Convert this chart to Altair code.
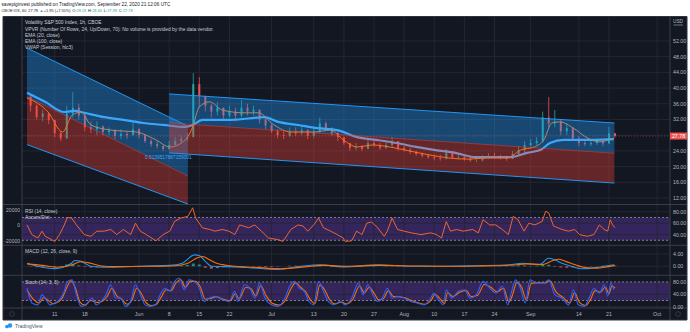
import altair as alt
import pandas as pd

# ---------------- data ----------------
# x unit: trading days counted from 11 May 2020 (t = 0)
day_t = list(range(-4, 94))
close = [35.5, 32.6, 33.5, 31.9, 28.5, 27.2, 33.5, 35.0, 33.0, 30.0,
         29.5, 30.2, 28.8, 29.2, 27.8, 28.3, 28.0, 29.5, 28.0, 26.5,
         25.7, 25.2, 24.5, 25.5, 26.5, 27.0, 27.5, 41.0, 38.0, 35.5,
         34.0, 35.0, 33.0, 34.0, 33.0, 35.0, 34.0, 34.5, 32.0, 30.5,
         29.0, 28.0, 27.8, 29.0, 28.5, 29.3, 27.8, 29.0, 31.0, 29.8,
         28.5, 27.5, 26.0, 24.8, 25.0, 24.5, 26.0, 25.5, 24.8, 25.5,
         26.5, 24.8, 24.3, 23.8, 23.2, 22.8, 22.4, 22.2, 22.0, 23.5,
         22.4, 22.5, 22.0, 21.6, 21.6, 22.3, 22.6, 22.5, 22.3, 22.0,
         23.2, 24.2, 25.5, 26.0, 26.5, 32.5, 31.0, 31.5, 29.0, 29.8,
         27.2, 26.0, 25.7, 26.0, 26.4, 25.9, 28.5, 27.78]
high = [38.5, 35.8, 34.5, 33.5, 31.5, 29.0, 35.5, 39.0, 36.0, 33.5,
        31.5, 31.5, 30.5, 30.0, 29.5, 29.5, 29.0, 31.5, 29.8, 28.2,
        27.0, 26.5, 25.5, 26.5, 27.5, 28.0, 28.5, 43.8, 42.8, 38.0,
        36.0, 36.4, 35.0, 35.5, 35.0, 36.9, 36.0, 35.5, 34.5, 32.5,
        31.0, 29.5, 29.0, 30.0, 30.0, 30.5, 29.5, 30.0, 32.5, 31.5,
        30.0, 28.8, 27.5, 26.0, 26.0, 25.5, 27.0, 26.8, 26.0, 26.3,
        27.5, 26.0, 25.2, 24.8, 24.0, 23.6, 23.2, 22.9, 23.0, 24.5,
        23.6, 23.2, 22.8, 22.5, 22.3, 22.8, 23.4, 23.5, 23.0, 22.8,
        24.0, 25.2, 26.5, 27.0, 27.5, 34.0, 37.7, 34.4, 32.0, 31.0,
        30.1, 27.8, 26.8, 26.8, 27.2, 26.8, 30.1, 28.4]
low = [34.0, 32.0, 31.5, 30.8, 27.5, 26.5, 27.0, 32.5, 32.0, 29.0,
       28.5, 28.0, 28.0, 28.0, 27.0, 27.0, 27.0, 28.0, 27.2, 26.0,
       25.0, 24.6, 24.0, 24.3, 25.5, 26.0, 26.5, 27.5, 35.0, 34.0,
       32.5, 33.0, 32.0, 32.5, 31.5, 32.5, 33.0, 33.0, 31.0, 29.5,
       28.5, 27.2, 27.0, 27.5, 27.8, 28.0, 27.0, 27.2, 28.5, 29.0,
       27.8, 26.5, 25.5, 24.0, 24.2, 24.0, 24.5, 25.0, 24.2, 24.5,
       25.0, 24.0, 23.8, 23.2, 22.8, 22.3, 22.0, 21.6, 21.5, 21.8,
       21.9, 21.8, 21.5, 21.2, 21.1, 21.3, 21.9, 22.0, 21.8, 21.5,
       21.9, 22.8, 23.5, 25.0, 25.5, 26.0, 30.0, 30.0, 28.0, 28.0,
       26.5, 25.2, 25.2, 25.2, 25.5, 25.2, 25.8, 27.39]
first_open = 37.7
hist = [0.1, -0.3, -0.4, -0.3,
        -0.3, 0.1, 0.6, 0.7, 0.3, -0.2, -0.4, -0.3, -0.2, -0.1,
        0.0, 0.1, 0.0, 0.1, 0.0, -0.1, -0.1, 0.0, 0.0, 0.1,
        0.2, 0.3, 0.4, 0.9, 0.6, -0.5, -0.8, -0.6, -0.3, -0.2,
        -0.1, 0.1, 0.0, -0.1, -0.2, -0.3, -0.2, -0.1, 0.0, 0.2,
        0.2, 0.1, 0.1, 0.2, 0.3, 0.0, -0.2, -0.2, -0.2, -0.1,
        0.0, 0.1, 0.2, 0.1, 0.0, 0.1, 0.1, -0.1, -0.1, -0.1,
        0.0, 0.0, 0.0, 0.0, 0.0, 0.1, 0.0, 0.0, 0.0, 0.0,
        0.1, 0.1, 0.0, 0.0, 0.1, 0.1, 0.2, 0.3, 0.3, 0.1,
        0.2, 0.6, 0.5, -0.2, -0.4, -0.5, -0.4, -0.3, -0.1, 0.1,
        0.1, 0.2, 0.3, 0.2]

e100_t = [-4.6, -1.6, 1.6, 3.3, 4.9, 8.2, 11.4, 14.7, 18.0, 21.7, 22.9, 24.5,
          26.6, 29.4, 34.8, 37.1, 40.4, 43.6, 46.9, 50.2, 53.4, 56.7, 60.0,
          63.2, 66.5, 69.8, 73.0, 75.7, 78.4, 80.6, 82.2, 84.5, 86.6, 89.4, 92.8]
e100_v = [38.8, 36.5, 33.9, 34.2, 33.7, 32.6, 31.9, 31.1, 30.6, 30.1, 30.6, 31.9,
          31.9, 31.9, 32.6, 31.4, 30.6, 29.8, 29.3, 27.5, 26.8, 26.0, 25.0,
          24.2, 23.5, 22.4, 22.4, 22.4, 23.5, 24.2, 26.0, 26.8, 26.8, 26.8, 27.0]
e20_t = [-4.6, -1.1, 1.3, 2.9, 4.4, 6.0, 9.3, 13.6, 16.8, 19.1, 21.7, 22.9, 24.0,
         25.7, 27.8, 31.5, 33.8, 36.4, 39.2, 43.0, 45.8, 47.9, 50.2, 52.8, 55.6,
         58.8, 62.1, 65.4, 68.6, 71.9, 75.2, 77.3, 79.6, 81.2, 82.5, 83.8, 86.1,
         88.2, 90.4, 92.8]
e20_v = [37.5, 33.9, 28.8, 33.1, 33.9, 30.6, 29.3, 28.8, 26.8, 25.0, 26.8, 30.1,
         35.2, 36.5, 34.4, 33.7, 33.7, 30.6, 28.8, 28.8, 29.3, 26.8, 25.0, 25.5,
         25.0, 24.0, 23.0, 22.2, 21.9, 22.2, 22.2, 24.2, 25.0, 26.8, 31.1, 31.4,
         29.8, 27.5, 26.3, 27.3]

# regression channels: [start, end]
ch1_t = [-4.6, 22.1]
ch1_up = [50.2, 30.3]
ch1_mid = [37.8, 17.6]
ch1_lo = [25.6, 5.2]
ch2_t = [19.0, 92.9]
ch2_up = [38.5, 31.1]
ch2_mid = [31.1, 23.4]
ch2_lo = [23.5, 15.8]

rsi_t = [-4.6, -3.8, -2.8, -2.1, -1.6, -0.5, 0, 0.8, 1.6, 2.1, 2.8, 3.6, 4.9, 6.0,
         7.0, 8.2, 9.3, 10.3, 11.4, 12.6, 13.4, 14.2, 15.2, 16.8, 18.0, 19.1, 19.9,
         20.9, 22.1, 22.9, 23.4, 24.5, 25.7, 26.6, 27.8, 28.9, 29.9, 30.7, 32.2,
         33.2, 34.3, 35.5, 37.1, 37.9, 39.2, 40.4, 41.2, 42.0, 43.0, 43.8, 44.6,
         45.8, 46.9, 47.9, 48.2, 49.3, 50.1, 51.0, 51.8, 52.6, 53.6, 54.7, 55.2,
         56.0, 56.9, 58.0, 59.2, 60.8, 62.4, 63.4, 64.2, 65.0, 65.7, 66.7, 67.8,
         69.4, 70.3, 71.1, 72.2, 73.2, 74.3, 75.3, 76.1, 76.9, 77.9, 78.7, 79.7,
         80.9, 81.5, 82.0, 82.8, 84.2, 85.3, 86.3, 87.1, 88.4, 89.5, 90.4, 91.2,
         91.8, 92.2, 92.6, 93.0]
rsi_v = [57, 40, 34, 46, 37, 31, 28, 40, 57, 70, 69, 57, 40, 37, 46, 46, 49, 40, 49,
         40, 60, 46, 40, 29, 40, 46, 63, 69, 72, 87, 69, 52, 49, 46, 49, 46, 40, 57,
         52, 57, 46, 34, 31, 28, 49, 57, 55, 46, 57, 69, 52, 46, 40, 34, 28, 29, 46,
         40, 60, 62, 52, 37, 46, 69, 49, 46, 43, 40, 43, 40, 34, 63, 46, 49, 46, 49,
         43, 66, 57, 57, 49, 40, 72, 66, 46, 60, 57, 63, 81, 78, 55, 49, 46, 49, 40,
         37, 40, 57, 49, 46, 66, 57, 52]

macd_t = [-4.6, -2.8, 0, 2.8, 3.3, 4.4, 6.0, 8.2, 13.6, 19.1, 21.2, 23.2, 24.0,
          25.0, 26.1, 29.9, 32.7, 37.1, 40.8, 44.1, 47.9, 53.6, 59.2, 64.5, 69.9,
          75.5, 77.6, 80.4, 82.0, 83.0, 84.2, 85.8, 87.4, 89.5, 91.2, 92.8]
macd_v = [1.0, 0, -0.75, 1.0, 1.9, 1.6, 0, -0.3, 0, 0.3, 1.0, 3.7, 3.5, 1.6, 0,
          -0.2, -0.5, -1.0, 0, 0.5, -0.2, 0.5, 0, 0, 0.2, 0.5, 1.0, 0.5, 2.6, 2.1,
          1.0, 0, -0.8, -0.5, 0, 0.5]
sig_t = [-4.6, -2, 0.5, 3.0, 4.2, 5.5, 7.5, 10, 15, 20, 22, 23.7, 24.6, 25.6, 27,
         30, 33, 37.5, 41.5, 44.6, 48.5, 54, 60, 65, 70, 76, 78.2, 81, 82.6, 83.6,
         84.8, 86.3, 88, 90, 91.6, 93]
sig_v = [0.8, 0.3, -0.3, 0.5, 1.5, 1.2, 0.2, -0.1, 0, 0.2, 0.9, 2.8, 3.2, 2.2, 0.9,
         0, -0.3, -0.8, -0.2, 0.3, 0, 0.3, 0.1, 0, 0.1, 0.4, 0.8, 0.6, 1.8, 2.3,
         1.6, 0.6, -0.4, -0.6, -0.2, 0.3]

stk_t = [-4.6, -3.8, -2.8, -2.1, -1.6, -0.8, 0, 0.8, 1.6, 2.1, 2.9, 3.6, 4.4, 5.2,
         6.2, 6.9, 7.7, 8.5, 9.3, 10.1, 10.9, 11.8, 12.6, 13.4, 14.2, 15.0, 15.8,
         16.7, 17.5, 18.3, 19.1, 19.9, 20.7, 21.5, 22.3, 23.2, 24.0, 24.8, 25.7,
         26.6, 27.8, 28.9, 29.9, 30.4, 31.5, 32.4, 33.2, 34.0, 34.9, 36.0, 37.1,
         38.2, 39.0, 39.8, 40.6, 41.4, 42.2, 43.0, 43.8, 44.6, 45.4, 46.3, 47.4,
         48.2, 49.3, 50.4, 51.2, 52.0, 52.8, 53.6, 54.4, 55.2, 56.0, 56.9, 58.0,
         59.1, 60.1, 61.3, 62.4, 62.9, 63.7, 64.5, 65.0, 65.9, 67.0, 68.1, 68.9,
         70.0, 71.1, 72.2, 73.2, 74.3, 75.2, 75.7, 76.5, 77.3, 78.1, 78.9, 80.1,
         81.2, 82.0, 83.0, 84.2, 85.3, 86.1, 86.9, 87.9, 88.7, 89.5, 90.4, 91.2,
         91.8, 92.3, 92.8]
stk_v = [60, 12, 6, 39, 28, 6, 12, 23, 50, 82, 87, 39, 1, 6, 28, 6, 17, 39, 71, 28,
         28, 1, 17, 71, 39, 6, 1, 6, 39, 60, 50, 82, 93, 55, 87, 82, 60, 17, 28, 34,
         23, 17, 50, 17, 71, 60, 28, 77, 28, 6, 1, 28, 66, 82, 60, 50, 17, 6, 82, 50,
         17, 6, 17, 6, 28, 77, 39, 71, 39, 17, 28, 60, 28, 34, 28, 17, 12, 6, 28, 44,
         23, 6, 55, 28, 50, 55, 28, 39, 82, 60, 44, 66, 6, 39, 87, 60, 12, 87, 77, 77,
         87, 39, 28, 6, 55, 6, 1, 28, 60, 44, 71, 34, 77, 55]
std_t = [-4.6, -3.6, -2.6, -1.8, -1.2, -0.3, 0.5, 1.3, 2.0, 2.7, 3.4, 4.2, 5.0, 6.0,
         7.0, 7.9, 8.7, 9.5, 10.3, 11.1, 12.0, 12.8, 13.6, 14.4, 15.2, 16.0, 16.9,
         17.7, 18.5, 19.3, 20.1, 20.9, 21.7, 22.5, 23.4, 24.2, 25.0, 25.9, 26.8,
         28.0, 29.1, 30.0, 30.6, 31.7, 32.6, 33.4, 34.2, 35.1, 36.2, 37.3, 38.4,
         39.2, 40.0, 40.8, 41.6, 42.4, 43.2, 44.0, 44.8, 45.6, 46.5, 47.6, 48.4,
         49.5, 50.6, 51.4, 52.2, 53.0, 53.8, 54.6, 55.4, 56.2, 57.1, 58.2, 59.3,
         60.3, 61.5, 62.6, 63.1, 63.9, 64.7, 65.2, 66.1, 67.2, 68.3, 69.1, 70.2,
         71.3, 72.4, 73.4, 74.5, 75.4, 75.9, 76.7, 77.5, 78.3, 79.1, 80.3, 81.4,
         82.2, 83.2, 84.4, 85.5, 86.3, 87.1, 88.1, 88.9, 89.7, 90.6, 91.4, 92.0,
         92.5, 93.0]
std_v = [55, 25, 12, 30, 22, 10, 14, 30, 62, 84, 62, 15, 5, 20, 14, 18, 33, 60, 35,
         25, 8, 20, 60, 42, 12, 4, 8, 32, 55, 52, 76, 88, 62, 82, 82, 62, 24, 27, 32,
         24, 19, 42, 25, 62, 58, 34, 68, 35, 10, 5, 24, 58, 78, 63, 50, 24, 10, 70,
         55, 24, 9, 15, 9, 24, 68, 45, 63, 44, 22, 27, 52, 33, 32, 28, 19, 13, 8, 24,
         40, 27, 10, 45, 33, 47, 52, 33, 37, 72, 63, 48, 60, 15, 33, 78, 63, 22, 75,
         78, 77, 84, 48, 30, 12, 45, 14, 4, 22, 52, 47, 64, 42, 68, 60]

price_ticks = [12, 16, 20, 24, 28, 32, 36, 40, 44, 48, 52]
rsi_ticks = [80, 60, 40]
rsi_band = [70, 30]
ad_ticks = [20000, 0, -20000]
macd_ticks = [4, 0]
stoch_ticks = [80, 40, 0]
stoch_band = [80, 20]
time_labels = ["11", "18", "Jun", "8", "15", "22", "Jul", "13", "20", "27",
               "Aug", "10", "17", "24", "Sep", "14", "21", "Oct"]
time_t = [0, 5, 14, 19, 24, 29, 36, 43, 48, 53, 58, 63, 68, 73, 79, 87, 92, 100]
last_price = 27.78
pearson = "0.5139517887159001"

for a, b in [(day_t, close), (day_t, high), (day_t, low), (day_t, hist),
             (e100_t, e100_v), (e20_t, e20_v), (rsi_t, rsi_v), (macd_t, macd_v),
             (sig_t, sig_v), (stk_t, stk_v), (std_t, std_v), (time_t, time_labels)]:
    assert len(a) == len(b), (len(a), len(b))

# ---------------- styling ----------------
BG = "#131722"
GRID = "#232733"
SEP = "#3a3e4a"
TXT = "#b2b5be"
LEG = "#c9ccd4"
BLUE = "#2196f3"
RED = "#f44336"
UP = "#26a69a"
DOWN = "#ef5350"
FONT = "Liberation Sans"

X = alt.Scale(domain=[-4.6, 101.3], range=[22, 670], nice=False, zero=False)


def ysc(d0, d1, r0, r1):
    return alt.Scale(domain=[d0, d1], range=[r0, r1], nice=False, zero=False, clamp=True)


SP = ysc(10.47, 58.1, 204, 17)
SR = ysc(21.2, 91.9, 245.3, 205)
SA = ysc(-25550, 26450, 245.3, 205)
SM = ysc(-2.93, 6.83, 275.3, 245.3)
SS = ysc(-4.2, 101.7, 308, 275.3)

one = pd.DataFrame({"k": [0]})


def xe(f="t"):
    return alt.X(f"{f}:Q", scale=X, axis=None)


def ye(f, sc):
    return alt.Y(f"{f}:Q", scale=sc, axis=None)


def box(x0, x1, y0, y1, color, **kw):
    return alt.Chart(one).mark_rect(color=color, **kw).encode(
        x=alt.value(x0), x2=alt.value(x1), y=alt.value(y0), y2=alt.value(y1))


def rule(x0, x1, y0, y1, color, **kw):
    return alt.Chart(one).mark_rule(color=color, **kw).encode(
        x=alt.value(x0), x2=alt.value(x1), y=alt.value(y0), y2=alt.value(y1))


def label(x, y, text, size=5.0, color=LEG, align="left", weight="normal"):
    return alt.Chart(one).mark_text(
        align=align, baseline="middle", font=FONT, fontSize=size, color=color,
        fontWeight=weight).encode(x=alt.value(x), y=alt.value(y), text=alt.value(text))


layers = []
# dark panel
layers.append(box(3, 687, 16.5, 320, BG, stroke="#2f3340", strokeWidth=1))

# purple bands
bdf = pd.DataFrame({"a": [rsi_band[0]], "b": [rsi_band[1]]})
layers.append(alt.Chart(bdf).mark_rect(color="#34265c").encode(
    x=alt.value(22), x2=alt.value(670), y=ye("a", SR), y2="b:Q"))
sdf = pd.DataFrame({"a": [stoch_band[0]], "b": [stoch_band[1]]})
layers.append(alt.Chart(sdf).mark_rect(color="#34265c").encode(
    x=alt.value(22), x2=alt.value(670), y=ye("a", SS), y2="b:Q"))

# grids
tdf = pd.DataFrame({"t": time_t, "lab": time_labels})
layers.append(alt.Chart(tdf).mark_rule(color=GRID, strokeWidth=1).encode(
    x=xe(), y=alt.value(17), y2=alt.value(308)))
pdf = pd.DataFrame({"v": price_ticks})
layers.append(alt.Chart(pdf).mark_rule(color=GRID, strokeWidth=1).encode(
    y=ye("v", SP), x=alt.value(22), x2=alt.value(670)))
for ticks, sc in [(rsi_ticks, SR), (macd_ticks, SM), (stoch_ticks, SS)]:
    layers.append(alt.Chart(pd.DataFrame({"v": ticks})).mark_rule(
        color=GRID, strokeWidth=1).encode(y=ye("v", sc), x=alt.value(22), x2=alt.value(670)))

# pane separators
for yy in [204.5, 245.3, 275.3, 308]:
    layers.append(rule(3, 687, yy, yy, SEP, strokeWidth=1))
layers.append(rule(22, 22, 16.5, 320, SEP, strokeWidth=1))
layers.append(rule(670, 670, 16.5, 320, SEP, strokeWidth=1))

# candles
opens = [first_open] + close[:-1]
cdf = pd.DataFrame({"t": day_t, "o": opens, "h": high, "l": low, "c": close})
for sub, col in [(cdf[cdf.c >= cdf.o], UP), (cdf[cdf.c < cdf.o], DOWN)]:
    layers.append(alt.Chart(sub).mark_rule(color=col, strokeWidth=0.8).encode(
        x=xe(), y=ye("l", SP), y2="h:Q"))
    layers.append(alt.Chart(sub).mark_bar(color=col, size=2).encode(
        x=xe(), y=ye("o", SP), y2="c:Q"))

# moving averages
layers.append(alt.Chart(pd.DataFrame({"t": e100_t, "v": e100_v})).mark_line(
    color="#4db2ff", strokeWidth=2.2, interpolate="monotone").encode(x=xe(), y=ye("v", SP)))
layers.append(alt.Chart(pd.DataFrame({"t": e20_t, "v": e20_v})).mark_line(
    color="#f08a24", strokeWidth=1, interpolate="monotone").encode(x=xe(), y=ye("v", SP)))

# regression channels
for tt, up, mid, lo in [(ch1_t, ch1_up, ch1_mid, ch1_lo), (ch2_t, ch2_up, ch2_mid, ch2_lo)]:
    cd = pd.DataFrame({"t": tt, "up": up, "mid": mid, "lo": lo})
    layers.append(alt.Chart(cd).mark_area(color=BLUE, opacity=0.38).encode(
        x=xe(), y=ye("up", SP), y2="mid:Q"))
    layers.append(alt.Chart(cd).mark_area(color=RED, opacity=0.36).encode(
        x=xe(), y=ye("mid", SP), y2="lo:Q"))
    layers.append(alt.Chart(cd).mark_line(color=BLUE, strokeWidth=1).encode(
        x=xe(), y=ye("up", SP)))
    layers.append(alt.Chart(cd).mark_line(color=BLUE, strokeWidth=1).encode(
        x=xe(), y=ye("lo", SP)))
    layers.append(alt.Chart(cd).mark_line(color=RED, strokeWidth=0.8, opacity=0.6).encode(
        x=xe(), y=ye("mid", SP)))

# last price line
lp = pd.DataFrame({"v": [last_price], "s": [f"{last_price:.2f}"]})
layers.append(alt.Chart(lp).mark_rule(color=DOWN, strokeWidth=0.7, strokeDash=[1, 2],
                                      opacity=0.7).encode(
    y=ye("v", SP), x=alt.value(22), x2=alt.value(670)))

# RSI pane
for v in rsi_band:
    layers.append(alt.Chart(pd.DataFrame({"v": [v]})).mark_rule(
        color="#9598a1", strokeWidth=0.8, strokeDash=[2, 2]).encode(
        y=ye("v", SR), x=alt.value(22), x2=alt.value(670)))
layers.append(alt.Chart(pd.DataFrame({"t": rsi_t, "v": rsi_v})).mark_line(
    color="#f0642d", strokeWidth=1).encode(x=xe(), y=ye("v", SR)))

# MACD pane
hdf = pd.DataFrame({"t": day_t, "v": hist, "z": [0] * len(hist)})
for sub, col in [(hdf[hdf.v >= 0], UP), (hdf[hdf.v < 0], DOWN)]:
    layers.append(alt.Chart(sub).mark_bar(color=col, size=3, opacity=0.8).encode(
        x=xe(), y=ye("v", SM), y2="z:Q"))
layers.append(alt.Chart(pd.DataFrame({"t": macd_t, "v": macd_v})).mark_line(
    color="#2196f3", strokeWidth=1.1, interpolate="monotone").encode(x=xe(), y=ye("v", SM)))
layers.append(alt.Chart(pd.DataFrame({"t": sig_t, "v": sig_v})).mark_line(
    color="#ff6d00", strokeWidth=1.1, interpolate="monotone").encode(x=xe(), y=ye("v", SM)))

# Stoch pane
for v in stoch_band:
    layers.append(alt.Chart(pd.DataFrame({"v": [v]})).mark_rule(
        color="#9598a1", strokeWidth=0.8, strokeDash=[2, 2]).encode(
        y=ye("v", SS), x=alt.value(22), x2=alt.value(670)))
layers.append(alt.Chart(pd.DataFrame({"t": std_t, "v": std_v})).mark_line(
    color="#ff6d00", strokeWidth=1.1, interpolate="monotone").encode(x=xe(), y=ye("v", SS)))
layers.append(alt.Chart(pd.DataFrame({"t": stk_t, "v": stk_v})).mark_line(
    color="#2962ff", strokeWidth=1.1, interpolate="monotone").encode(x=xe(), y=ye("v", SS)))

# axis labels (right)
AX = dict(align="left", baseline="middle", font=FONT, fontSize=5.3, color=TXT)
for ticks, sc in [(price_ticks, SP), (rsi_ticks, SR), (macd_ticks, SM), (stoch_ticks, SS)]:
    layers.append(alt.Chart(pd.DataFrame({"v": ticks})).mark_text(**AX).encode(
        x=alt.value(673), y=ye("v", sc), text=alt.Text("v:Q", format=".2f")))
# left Accum/Dist labels
adf = pd.DataFrame({"v": ad_ticks, "s": [str(v) for v in ad_ticks]})
layers.append(alt.Chart(adf).mark_text(align="right", baseline="middle", font=FONT,
                                       fontSize=5, color=TXT).encode(
    x=alt.value(20), y=ye("v", SA), text="s:N"))
# time labels
layers.append(alt.Chart(tdf).mark_text(align="center", baseline="middle", font=FONT,
                                       fontSize=5.3, color=TXT).encode(
    x=xe(), y=alt.value(314), text="lab:N"))
# last price tag
layers.append(alt.Chart(lp).mark_tick(color=DOWN, size=17, thickness=7, opacity=1).encode(
    y=ye("v", SP), x=alt.value(678.5)))
layers.append(alt.Chart(lp).mark_text(align="center", baseline="middle", font=FONT,
                                      fontSize=5.3, color="white").encode(
    y=ye("v", SP), x=alt.value(678.5), text="s:N"))

# small decorations
layers.append(label(678, 22, "USD", 4.8, TXT, "center"))
layers.append(rule(673.5, 683, 25, 25, TXT, strokeWidth=0.6))
layers.append(alt.Chart(one).mark_point(shape="circle", size=22, color="#50535e",
                                        strokeWidth=0.8).encode(x=alt.value(12), y=alt.value(314)))
layers.append(alt.Chart(one).mark_point(shape="circle", size=22, color="#50535e",
                                        strokeWidth=0.8).encode(x=alt.value(678), y=alt.value(314)))

# in-chart legends
layers.append(label(25, 23.3, "Volatility S&P 500 Index, 1h, CBOE", 4.9, "#d1d4dc"))
layers.append(label(25, 29.5, "VPVR (Number Of Rows, 24, Up/Down, 70): No volume is provided by the data vendor.", 4.9))
layers.append(label(25, 35.8, "EMA (20, close)", 4.9))
layers.append(label(25, 42.1, "EMA (100, close)", 4.9))
layers.append(label(25, 48.4, "VWAP (Session, hlc3)", 4.9))
layers.append(label(25, 211.5, "RSI (14, close)", 4.9))
layers.append(label(25, 218, "Accum/Dist", 4.9))
layers.append(label(25, 252, "MACD (12, 26, close, 9)", 4.9))
layers.append(label(25, 282.5, "Stoch (14, 3, 3)", 4.9))
layers.append(label(145, 157.7, pearson, 4.8, "#42a5f5"))

# header
layers.append(label(1.5, 4.5, "savepiginvest published on TradingView.com, September 22, 2020 21:12:06 UTC", 4.7, "#131722"))
hdr = [(1.5, "CBOE:VIX, 60", "#131722"), (28.3, "27.78", "#131722"), (39.6, "▲", "#2196f3"),
       (43.7, "+1.95 (+7.55%)", "#131722"), (72.2, "O:", "#131722"), (76.5, "28.23", UP),
       (88.1, "H:", "#131722"), (92.2, "28.40", UP), (103.8, "L:", "#131722"),
       (107.2, "27.39", UP), (118.8, "C:", "#131722"), (122.9, "27.78", UP)]
for xx, s, col in hdr:
    layers.append(label(xx, 10.8, s, 3.9, col))

# footer logo
layers.append(alt.Chart(one).mark_point(shape="circle", filled=True, size=14, color="#2196f3",
                                        opacity=1).encode(x=alt.value(7), y=alt.value(326.5)))
layers.append(alt.Chart(one).mark_point(shape="circle", filled=True, size=20, color="#2196f3",
                                        opacity=1).encode(x=alt.value(10), y=alt.value(325.5)))
layers.append(label(15, 326.3, "TradingView", 5, "#50535e"))

chart = alt.layer(*layers).properties(
    width=690, height=332, background="white", padding=0,
    autosize=alt.AutoSizeParams(type="none"),
).resolve_scale(y="independent").configure_view(strokeWidth=0)

chart.save("out.html", embed_options={"renderer": "svg", "actions": False})
